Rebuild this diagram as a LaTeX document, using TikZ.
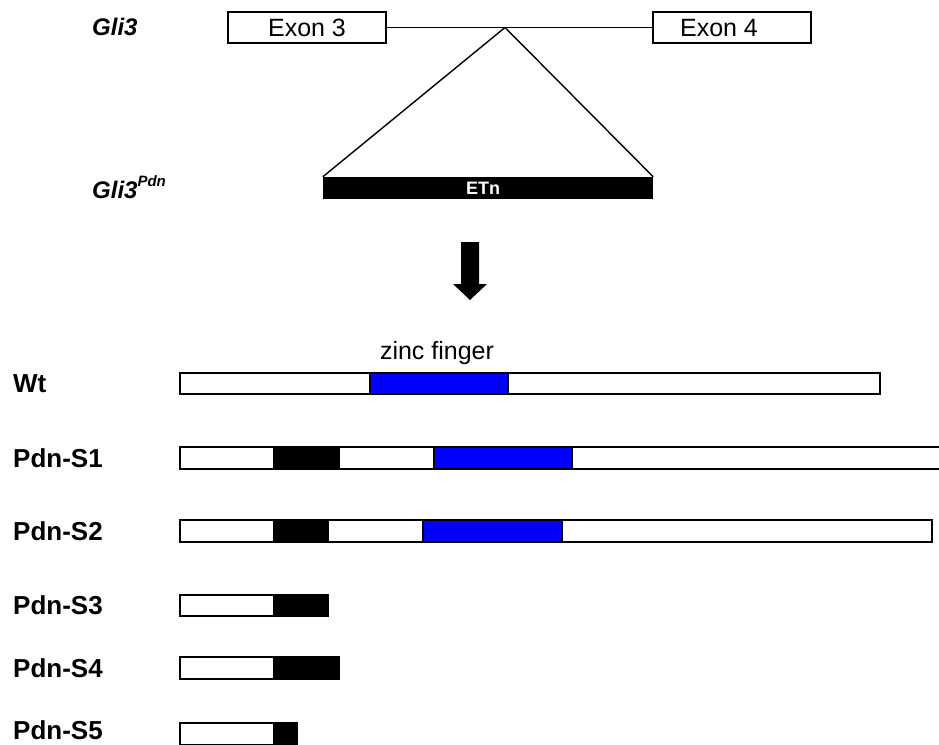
\documentclass[tikz,border=0pt]{standalone}
\usepackage{fontspec}
\setmainfont{Liberation Sans}
\definecolor{zfblue}{RGB}{0,0,255}
\begin{document}
\begin{tikzpicture}[x=1pt,y=-1pt,
  exonbox/.style={draw,line width=1.5pt,fill=white,minimum width=158pt,minimum height=31pt,inner sep=0pt,font=\fontsize{25}{28}\selectfont},
  lbl/.style={anchor=west,inner sep=0pt,font=\fontsize{26}{30}\selectfont\bfseries},
  glilbl/.style={anchor=west,inner sep=0pt,font=\fontsize{24}{28}\selectfont\bfseries\itshape},
  barw/.style={draw,line width=1.7pt,fill=white},
  seg/.style={draw,line width=1.4pt},
  thin/.style={line width=1.4pt}]
\useasboundingbox (0,0) rectangle (939,744);
% top gene structure
\node[glilbl] (gli) at (92,27) {Gli3};
\node[exonbox] (e3) at (307,27.5) {};
\node[font=\fontsize{25}{28}\selectfont] (e3t) at (307,28) {Exon 3};
\node[exonbox] (e4) at (732,27.5) {};
\node[font=\fontsize{25}{28}\selectfont] (e4t) at (719,28) {Exon 4};
\draw[thin] (e3.east) -- (e4.west);
\coordinate (apex) at (505,27.5);
\node[glilbl] (glipdn) at (92,187) {Gli3\raisebox{0.5em}{\fontsize{15}{17}\selectfont Pdn}};
\node[fill=black,minimum width=330pt,minimum height=22pt,inner sep=0pt] (etn) at (488,188) {};
\node[text=white,font=\fontsize{18}{20}\selectfont\bfseries] (etnt) at (483,188) {ETn};
\draw[thin] (apex) -- (etn.north west);
\draw[thin] (apex) -- (etn.north east);
% big arrow
\fill[black] (461,242) -- (479,242) -- (479,284) -- (487,284) -- (470,300) -- (453,284) -- (461,284) -- cycle;
% Wt
\node[lbl] (wt) at (13,384) {Wt};
\draw[barw] (180,373) rectangle (880,394);
\draw[seg,fill=zfblue] (370,373) rectangle (508,394);
\node[font=\fontsize{25}{28}\selectfont,anchor=base] (zf) at (437,359) {zinc finger};
% Pdn-S1
\node[lbl] (s1) at (13,458) {Pdn-S1};
\draw[barw] (180,447) rectangle (950,469);
\draw[seg,fill=black] (274,447) rectangle (339,469);
\draw[seg,fill=zfblue] (434,447) rectangle (572,469);
% Pdn-S2
\node[lbl] (s2) at (13,531) {Pdn-S2};
\draw[barw] (180,520) rectangle (932,542);
\draw[seg,fill=black] (274,520) rectangle (328,542);
\draw[seg,fill=zfblue] (423,520) rectangle (562,542);
% Pdn-S3
\node[lbl] (s3) at (13,605) {Pdn-S3};
\draw[barw] (180,595) rectangle (328,616);
\draw[seg,fill=black] (274,595) rectangle (328,616);
% Pdn-S4
\node[lbl] (s4) at (13,668) {Pdn-S4};
\draw[barw] (180,657) rectangle (339,679);
\draw[seg,fill=black] (274,657) rectangle (339,679);
% Pdn-S5
\node[lbl] (s5) at (13,730) {Pdn-S5};
\draw[barw] (180,723) rectangle (297,745);
\draw[seg,fill=black] (274,723) rectangle (297,745);
\end{tikzpicture}
\end{document}
